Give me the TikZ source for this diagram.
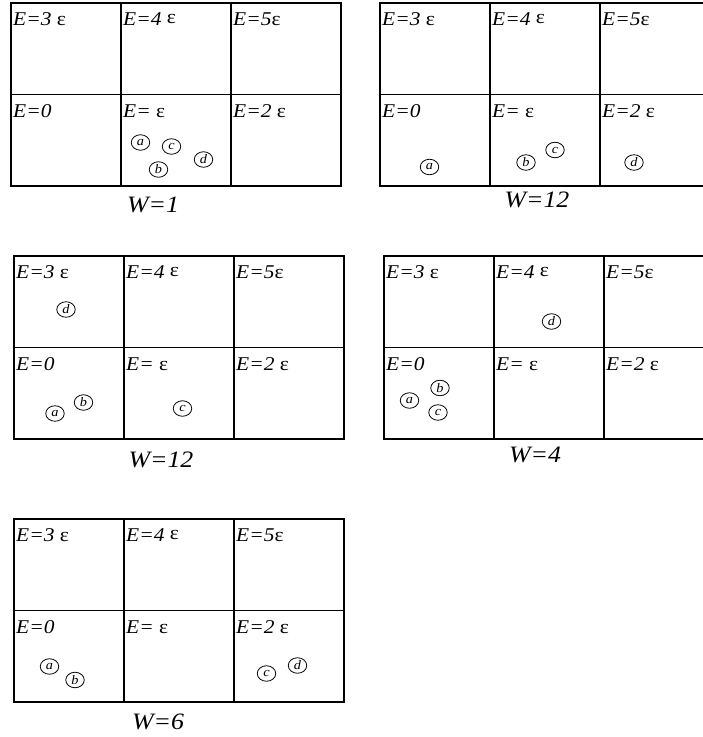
\documentclass[tikz,border=0pt]{standalone}
\usepackage{fontspec}
\setmainfont{Liberation Serif}[FakeStretch=1.1]
\usetikzlibrary{shapes.geometric}
\tikzset{
  cellline/.style={line width=1.1pt},
  elabel/.style={anchor=base west, inner sep=0pt, font=\fontsize{19.5}{19.5}\selectfont},
  wlabel/.style={anchor=base, inner sep=0pt, font=\fontsize{23.5}{23.5}\selectfont\itshape},
  particle/.style={ellipse, draw, line width=0.8pt, minimum width=18.5pt, minimum height=15.5pt, inner sep=0pt, font=\fontsize{13}{13}\selectfont\itshape},
}
\newcommand\energygrid[3]{%
  \begin{scope}[shift={(#2,#3)}]
    \draw[cellline] (0,0) rectangle (330,183);
    \draw[cellline] (0,91.5) -- (330,91.5);
    \draw[cellline] (110,0) -- (110,183) (220,0) -- (220,183);
    \node[elabel] (#1-e3) at (2,22) {\textit{E=3} ε};
    \node[elabel] (#1-e4) at (112,22) {\textit{E=4} \raisebox{2pt}{ε}};
    \node[elabel] (#1-e5) at (222,22) {\textit{E=5}ε};
    \node[elabel] (#1-e0) at (2,114) {\textit{E=0}};
    \node[elabel] (#1-e1) at (112,114) {\textit{E=} ε};
    \node[elabel] (#1-e2) at (222,114) {\textit{E=2} ε};
  \end{scope}}
\begin{document}
\begin{tikzpicture}[x=1pt,y=-1pt]
  \useasboundingbox (0,0) rectangle (703,737);
  \clip (0,0) rectangle (703,737);
  \fill[white] (0,0) rectangle (703,737);
  % grids
  \energygrid{g1}{11}{3}
  \energygrid{g2}{380}{3}
  \energygrid{g3}{14}{256}
  \energygrid{g4}{384}{256}
  \energygrid{g5}{14}{519}
  % W labels
  \node[wlabel] (w1) at (153,212) {W=1};
  \node[wlabel] (w2) at (537,207) {W=12};
  \node[wlabel] (w3) at (161,467) {W=12};
  \node[wlabel] (w4) at (535,462) {W=4};
  \node[wlabel] (w5) at (158,729) {W=6};
  % particles grid 1
  \node[particle] (g1-a) at (140.5,142.5) {a};
  \node[particle] (g1-c) at (171.5,146.5) {c};
  \node[particle] (g1-b) at (158.5,169.5) {b};
  \node[particle] (g1-d) at (203.5,159.5) {d};
  % grid 2
  \node[particle] (g2-a) at (429.5,167) {a};
  \node[particle] (g2-b) at (526,162.5) {b};
  \node[particle] (g2-c) at (555,150) {c};
  \node[particle] (g2-d) at (634,162.5) {d};
  % grid 3
  \node[particle] (g3-d) at (66,309.5) {d};
  \node[particle] (g3-a) at (55,413.5) {a};
  \node[particle] (g3-b) at (83.5,402.5) {b};
  \node[particle] (g3-c) at (182.5,408.5) {c};
  % grid 4
  \node[particle] (g4-d) at (551.5,321.5) {d};
  \node[particle] (g4-a) at (409.5,400.5) {a};
  \node[particle] (g4-b) at (440,388) {b};
  \node[particle] (g4-c) at (438,412.5) {c};
  % grid 5
  \node[particle] (g5-a) at (49.5,666.5) {a};
  \node[particle] (g5-b) at (75,680) {b};
  \node[particle] (g5-c) at (266.5,673.5) {c};
  \node[particle] (g5-d) at (297.5,665.5) {d};
\end{tikzpicture}
\end{document}
